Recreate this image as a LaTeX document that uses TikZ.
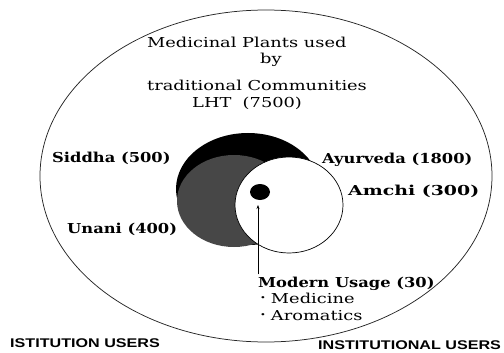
\documentclass[tikz,border=0pt]{standalone}
\usepackage{fontspec}
\setmainfont{DejaVu Serif}
\newfontfamily\serifw[FakeStretch=1.3]{DejaVu Serif}
\newfontfamily\serifb[FakeStretch=1.19]{DejaVu Serif}
\newfontfamily\serifbw[FakeStretch=1.38]{DejaVu Serif}
\newfontfamily\sansw[FakeStretch=1.28]{Liberation Sans}
\usetikzlibrary{arrows.meta}
\newcommand{\mybul}{\raisebox{0.35ex}{\scalebox{0.55}{\textbullet}}\hspace{5pt}}
\tikzset{
  lbl/.style={anchor=base west, inner sep=0pt, font=\fontsize{13.7}{15}\serifw},
  blbl/.style={anchor=base west, inner sep=0pt, font=\fontsize{13.7}{15}\serifb\bfseries},
  slbl/.style={anchor=base west, inner sep=0pt, font=\fontsize{12.6}{14}\sansw\bfseries},
  ptr/.style={-{Stealth[length=4pt,width=3pt]}, line width=0.6pt}
}
\begin{document}
\begin{tikzpicture}[x=1pt,y=-1pt]
\useasboundingbox (0,0) rectangle (504,353);
% outer ellipse
\draw[line width=0.75pt, black!85] (266,176) ellipse [x radius=226pt, y radius=166pt];
% Ayurveda (black)
\fill[black] (248,189) ellipse [x radius=72pt, y radius=56pt];
% Unani (dark stipple)
\fill[black!72] (234,201) ellipse [x radius=57pt, y radius=46pt];
% Amchi (white)
\draw[fill=white, line width=0.7pt] (289,205) ellipse [x radius=54pt, y radius=48pt];
% modern usage dot
\fill[black] (260,192) ellipse [x radius=10pt, y radius=8pt];
\coordinate (dot) at (258,205);
% texts
\node[lbl] (t1) at (147,48) {Medicinal Plants used};
\node[lbl] (t2) at (260,64) {by};
\node[lbl] (t3) at (147,91) {traditional Communities};
\node[lbl] (t4) at (192,107) {LHT\ \ (7500)};
\node[blbl] (sid) at (52,162) {Siddha (500)};
\node[blbl] (ayu) at (322,163) {Ayurveda (1800)};
\node[blbl, font=\fontsize{13.7}{15}\serifbw\bfseries] (amc) at (348,195) {Amchi (300)};
\node[blbl] (una) at (67,233) {Unani (400)};
\node[blbl] (mod) at (258,287) {Modern Usage (30)};
\node[lbl] (med) at (260,303) {\mybul Medicine};
\node[lbl] (aro) at (260,320) {\mybul Aromatics};
\node[slbl] (lu) at (10,347) {ISTITUTION USERS};
\node[slbl] (ru) at (318,349) {INSTITUTIONAL USERS};
\draw[ptr] (mod.north west) ++(0,-2) -- (dot);
\end{tikzpicture}
\end{document}
